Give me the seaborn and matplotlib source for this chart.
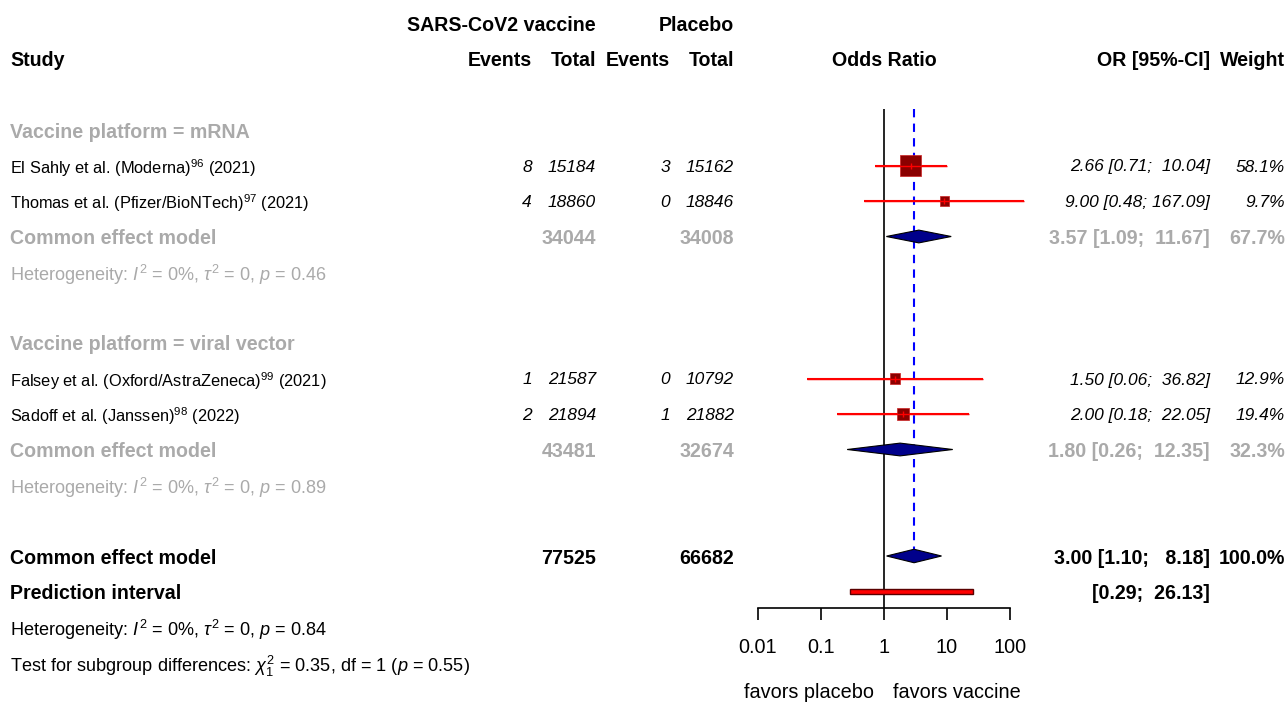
"""
Forest plot: SARS-CoV2 vaccine vs placebo, odds ratios by vaccine platform
"""

import numpy as np
import matplotlib
matplotlib.use("Agg")
import matplotlib.pyplot as plt
import matplotlib.transforms as mtransforms
from matplotlib.patches import Polygon, Rectangle
from matplotlib.ticker import NullLocator
import seaborn as sns

# ---------------------------------------------------------------------------
# Data
# ---------------------------------------------------------------------------
study_names = ["El Sahly et al. (Moderna)", "Thomas et al. (Pfizer/BioNTech)",
               "Falsey et al. (Oxford/AstraZeneca)", "Sadoff et al. (Janssen)"]
study_refs = ["96", "97", "99", "98"]
study_years = [2021, 2021, 2021, 2022]
study_platform = ["mRNA", "mRNA", "viral vector", "viral vector"]
events_vac = [8, 4, 1, 2]
total_vac = [15184, 18860, 21587, 21894]
events_pla = [3, 0, 0, 1]
total_pla = [15162, 18846, 10792, 21882]
or_est = [2.66, 9.00, 1.50, 2.00]
or_lo = [0.71, 0.48, 0.06, 0.18]
or_hi = [10.04, 167.09, 36.82, 22.05]
weights = [58.1, 9.7, 12.9, 19.4]

platforms = ["mRNA", "viral vector"]
sub_total_vac = [34044, 43481]
sub_total_pla = [34008, 32674]
sub_or = [3.57, 1.80]
sub_lo = [1.09, 0.26]
sub_hi = [11.67, 12.35]
sub_weight = [67.7, 32.3]
sub_het_p = [0.46, 0.89]

all_total_vac, all_total_pla = 77525, 66682
all_or, all_lo, all_hi = 3.00, 1.10, 8.18
pred_lo, pred_hi = 0.29, 26.13
all_het_p = 0.84
subgroup_chi2, subgroup_df, subgroup_p = 0.35, 1, 0.55

ticks = [0.01, 0.1, 1, 10, 100]
tick_labels = ["0.01", "0.1", "1", "10", "100"]

# ---------------------------------------------------------------------------
# Layout
# ---------------------------------------------------------------------------
W, H = 1288, 702
ROW0, ROW_H = 130, 35.5
FS = 12.5        # study numbers
FS_NAME = 11.8   # study labels
FS_B = 14.1      # bold headings / summaries
FS_HET = 13.1    # heterogeneity lines
FS_AX = 14.3     # axis labels
GREY = "#aaaaaa"
X_STUDY, X_EV1, X_TOT1, X_EV2, X_TOT2 = 10, 532, 596, 670, 734
X_OR, X_W = 1210, 1285
AXIS_ROW = 13.46

sns.set_theme(style="white")
plt.rcParams["font.family"] = ["Liberation Sans", "DejaVu Sans"]
plt.rcParams["text.color"] = "black"
plt.rcParams["mathtext.fontset"] = "custom"
plt.rcParams["mathtext.rm"] = "Liberation Sans"
plt.rcParams["mathtext.it"] = "Liberation Sans:italic"
plt.rcParams["mathtext.bf"] = "Liberation Sans:bold"

fig = plt.figure(figsize=(W / 100, H / 100), dpi=100)
fig.patch.set_facecolor("white")
ax = fig.add_axes([758 / W, 0, 252 / W, 1])
ax.patch.set_visible(False)
ax.set_xscale("log")
ax.set_xlim(0.01, 100)
ax.set_ylim((H - ROW0) / ROW_H, -ROW0 / ROW_H)

trans = mtransforms.blended_transform_factory(fig.transFigure, ax.transData)


def txt(xpx, row, s, ha="left", size=FS, **kw):
    ax.text(xpx / W, row, s, ha=ha, va="center_baseline", transform=trans,
            fontsize=size, clip_on=False, **kw)


def btxt(xpx, row, s, ha="left", **kw):
    txt(xpx, row, s, ha=ha, size=FS_B, fontweight="bold", **kw)


def ci_text(est, lo, hi):
    return f"{est:.2f} [{lo:.2f}; {hi:6.2f}]"


def het_text(p):
    return ("Heterogeneity: $\\mathit{I}^2$ = 0%, $\\tau^2$ = 0, "
            f"$\\mathit{{p}}$ = {p:.2f}")


def diamond(est, lo, hi, row, half=0.18):
    ax.add_patch(Polygon([[lo, row], [est, row - half], [hi, row], [est, row + half]],
                         closed=True, facecolor="#00008b", edgecolor="black",
                         linewidth=0.8, zorder=4))


# headers
btxt(X_TOT1, -3, "SARS-CoV2 vaccine", ha="right")
btxt(X_TOT2, -3, "Placebo", ha="right")
btxt(X_STUDY, -2, "Study")
btxt(X_EV1, -2, "Events", ha="right")
btxt(X_TOT1, -2, "Total", ha="right")
btxt(X_EV2, -2, "Events", ha="right")
btxt(X_TOT2, -2, "Total", ha="right")
btxt(884, -2, "Odds Ratio", ha="center")
btxt(X_OR, -2, "OR [95%-CI]", ha="right")
btxt(X_W, -2, "Weight", ha="right")

# subgroups and studies
row = 0
study_rows = [0] * len(study_names)
for g, plat in enumerate(platforms):
    btxt(X_STUDY, row, f"Vaccine platform = {plat}", color=GREY)
    row += 1
    for i, p in enumerate(study_platform):
        if p != plat:
            continue
        study_rows[i] = row
        txt(X_STUDY, row, f"{study_names[i]}$^{{{study_refs[i]}}}$ ({study_years[i]})",
            size=FS_NAME)
        txt(X_EV1, row, str(events_vac[i]), ha="right", style="italic")
        txt(X_TOT1, row, str(total_vac[i]), ha="right", style="italic")
        txt(X_EV2, row, str(events_pla[i]), ha="right", style="italic")
        txt(X_TOT2, row, str(total_pla[i]), ha="right", style="italic")
        txt(X_OR, row, ci_text(or_est[i], or_lo[i], or_hi[i]), ha="right", style="italic")
        txt(X_W, row, f"{weights[i]:.1f}%", ha="right", style="italic")
        row += 1
    btxt(X_STUDY, row, "Common effect model", color=GREY)
    btxt(X_TOT1, row, str(sub_total_vac[g]), ha="right", color=GREY)
    btxt(X_TOT2, row, str(sub_total_pla[g]), ha="right", color=GREY)
    btxt(X_OR, row, ci_text(sub_or[g], sub_lo[g], sub_hi[g]), ha="right", color=GREY)
    btxt(X_W, row, f"{sub_weight[g]:.1f}%", ha="right", color=GREY)
    diamond(sub_or[g], sub_lo[g], sub_hi[g], row)
    row += 1
    txt(X_STUDY, row, het_text(sub_het_p[g]), size=FS_HET, color=GREY)
    row += 2

# overall
overall_row = row
btxt(X_STUDY, row, "Common effect model")
btxt(X_TOT1, row, str(all_total_vac), ha="right")
btxt(X_TOT2, row, str(all_total_pla), ha="right")
btxt(X_OR, row, ci_text(all_or, all_lo, all_hi), ha="right")
btxt(X_W, row, "100.0%", ha="right")
diamond(all_or, all_lo, all_hi, row, half=0.19)
row += 1
btxt(X_STUDY, row, "Prediction interval")
btxt(X_OR, row, f"[{pred_lo:.2f}; {pred_hi:6.2f}]", ha="right")
ax.add_patch(Rectangle((pred_lo, row - 0.07), pred_hi - pred_lo, 0.14,
                       facecolor="red", edgecolor="#5a0000", linewidth=1.0, zorder=4))
row += 1
txt(X_STUDY, row, het_text(all_het_p), size=FS_HET)
row += 1
txt(X_STUDY, row, "Test for subgroup differences: $\\chi^2_{1}$ = "
    f"{subgroup_chi2:.2f}, df = {subgroup_df} ($\\mathit{{p}}$ = {subgroup_p:.2f})",
    size=FS_HET)

# reference lines
ax.vlines(1, -0.6, AXIS_ROW, color="black", linewidth=1.2, zorder=2)
ax.vlines(all_or, -0.6, overall_row - 0.2, color="blue", linewidth=1.5,
          linestyles=(0, (4, 3)), zorder=2)

# study CIs and squares
ax.hlines(study_rows, or_lo, or_hi, color="red", linewidth=1.5, zorder=3, clip_on=False)
sides = 2.6 * np.sqrt(weights) + 1
sns.scatterplot(x=or_est, y=study_rows, marker="s", s=(sides * 0.72) ** 2,
                color="#8b0000", edgecolor="#cc2222", linewidth=0.5, zorder=4,
                legend=False, ax=ax)
ax.hlines(study_rows, or_lo, or_hi, color="red", linewidth=1.0, zorder=5, clip_on=False)
ax.scatter(or_est, study_rows, marker="|", s=25, color="red", linewidths=1.0, zorder=5)

# x axis
for side in ["left", "right", "top"]:
    ax.spines[side].set_visible(False)
ax.spines["bottom"].set_position(("data", AXIS_ROW))
ax.spines["bottom"].set_bounds(0.01, 100)
ax.spines["bottom"].set_color("black")
ax.spines["bottom"].set_linewidth(1.2)
ax.set_xticks(ticks, labels=tick_labels)
ax.xaxis.set_minor_locator(NullLocator())
ax.tick_params(axis="x", bottom=True, direction="out", length=8.6, width=1.2,
               color="black", pad=13, labelsize=FS_AX, labelcolor="black")
ax.set_yticks([])
ax.set_xlabel("")
ax.set_ylabel("")
ax.grid(False)

txt(874, 15.8, "favors placebo", ha="right", size=FS_AX)
txt(893, 15.8, "favors vaccine", ha="left", size=FS_AX)

fig.savefig("out.png", dpi=100, facecolor="white")
